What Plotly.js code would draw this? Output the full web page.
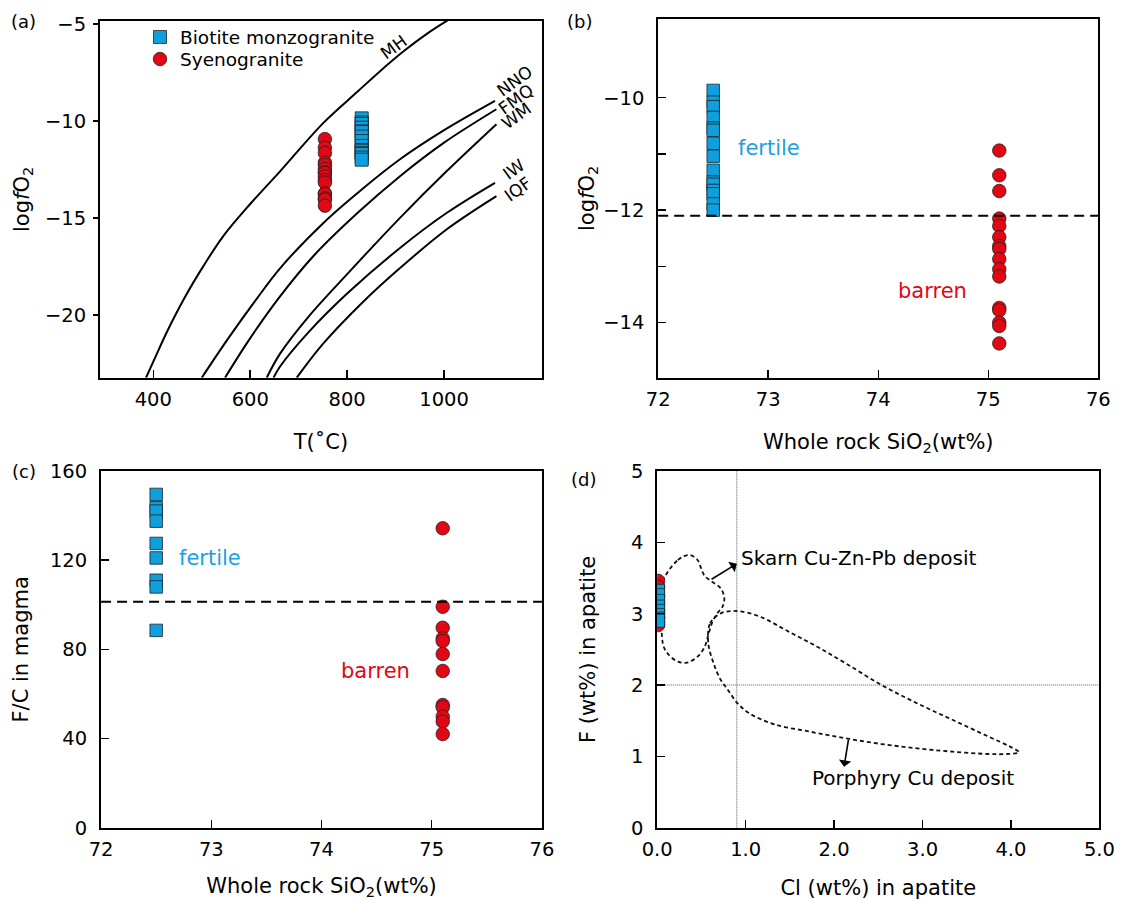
<!DOCTYPE html>
<html><head><meta charset="utf-8">
<script src="https://cdn.plot.ly/plotly-3.0.1.min.js"></script>
<style>html,body{margin:0;padding:0;background:#fff}#chart{width:1121px;height:900px}</style>
</head><body><div id="chart"></div>
<script>
// ---------- data ----------
// panel (a): oxygen-buffer curves  (T in °C, logfO2)
const mhT   = [385, 400, 430, 466, 503, 544, 599, 661.5, 751, 821, 865, 917, 968, 1009];
const mhFO2 = [-23.24, -22.41, -20.78, -19.05, -17.5, -15.95, -14.31, -12.6, -10.1, -8.5, -7.5, -6.4, -5.45, -4.79];
const nnoT   = [500, 555, 614, 661.5, 751, 830, 909, 1000, 1105];
const nnoFO2 = [-23.24, -21.2, -19.15, -17.6, -15.26, -13.54, -11.98, -10.48, -8.97];
const fmqT   = [548, 600, 661.5, 730, 820, 909, 1000, 1108];
const fmqFO2 = [-23.24, -21.2, -19.05, -16.98, -14.78, -12.85, -11.12, -9.40];
const wmT    = [634, 661.5, 720, 800, 909, 1005, 1108];
const wmFO2  = [-23.24, -22.0, -20.1, -17.9, -15.0, -12.6, -10.17];
const iwT    = [648, 661.5, 720, 800, 909, 1005, 1105];
const iwFO2  = [-23.24, -22.66, -20.9, -18.9, -16.55, -14.75, -13.19];
const iqfT   = [696, 750, 830, 909, 1005, 1108];
const iqfFO2 = [-23.24, -21.5, -19.4, -17.59, -15.6, -13.88];
const bufferLabels = ['MH', 'NNO', 'FMQ', 'WM', 'IW', 'IQF'];
const bufferLabelT   = [896, 1145, 1149, 1149, 1145, 1153];
const bufferLabelFO2 = [-6.2, -7.93, -8.88, -9.77, -12.5, -13.53];

// samples
const seriesNames = ['Biotite monzogranite', 'Syenogranite'];
const tempBiot = 830;           // T (°C), biotite monzogranite
const tempSyeno = 754;          // T (°C), syenogranite
const sio2Biot = 72.5;
const sio2Syeno = 75.1;
const fo2Biot  = [-9.87, -10.08, -10.16, -10.35, -10.54, -10.58, -10.81, -11.04, -11.29, -11.50, -11.54, -11.65, -11.71, -11.89, -12.00];
const fo2Syeno = [-10.94, -11.38, -11.66, -12.15, -12.28, -12.48, -12.64, -12.69, -12.87, -13.05, -13.18, -13.74, -13.78, -14.00, -14.06, -14.37];
const fo2Threshold = -12.1;
const fcBiot  = [149.5, 143.5, 142, 137.5, 127.5, 121, 111, 108, 88.5];
const fcSyeno = [134.3, 99.1, 89.7, 84.9, 83.7, 77.9, 70.3, 55.0, 54.0, 49.8, 47.6, 42.0];
const fcThreshold = 101.4;

// panel (d): apatite F vs Cl
const clBiot = 0.01, clSyeno = 0.01;
const fApBiot  = [3.32, 3.26, 3.18, 3.10, 3.04, 2.98, 2.93, 2.90];
const fApSyeno = [3.46, 3.38, 3.25, 3.15, 3.05, 2.95, 2.88, 2.84];
const skarnCl = [0.053, 0.234, 0.363, 0.456, 0.497, 0.537, 0.618, 0.719, 0.759, 0.739, 0.679, 0.618, 0.578, 0.537, 0.456, 0.335, 0.234, 0.133, 0.073, 0.053, 0.03, 0.053];
const skarnF  = [3.425, 3.752, 3.822, 3.752, 3.636, 3.528, 3.449, 3.355, 3.215, 3.098, 3.005, 2.864, 2.701, 2.537, 2.397, 2.313, 2.327, 2.421, 2.537, 2.701, 3.05, 3.425];
const porphCl = [0.578, 0.598, 0.719, 0.901, 1.163, 1.486, 1.809, 2.132, 2.536, 2.940, 3.344, 3.748, 3.990, 4.091, 3.950, 3.748, 3.344, 2.940, 2.536, 2.132, 1.729, 1.325, 1.042, 0.909, 0.800, 0.719, 0.638, 0.578];
const porphF  = [2.584, 2.864, 3.005, 3.037, 2.958, 2.748, 2.537, 2.304, 2.000, 1.743, 1.509, 1.276, 1.136, 1.056, 1.033, 1.033, 1.065, 1.112, 1.173, 1.252, 1.346, 1.449, 1.603, 1.743, 1.930, 2.070, 2.304, 2.584];
const clRef = 0.9, fRef = 2.0;

// ---------- styles ----------
const FONT = 'DejaVu Sans';
const BLUE = '#0E9FDF', RED = '#E30613';
const fertileColor = '#1BA1E2', barrenColor = '#E30613';
const edge = {color: '#222', width: 0.8};

function rep(v, n) { return Array.from({length: n}, () => v); }

const traces = [];
function curve(x, y, xa, ya) {
  traces.push({x: x, y: y, xaxis: xa, yaxis: ya, mode: 'lines', type: 'scatter',
    line: {color: '#000', width: 2, shape: 'spline', smoothing: 1}, showlegend: false, hoverinfo: 'skip'});
}
curve(mhT, mhFO2, 'x', 'y');
curve(nnoT, nnoFO2, 'x', 'y');
curve(fmqT, fmqFO2, 'x', 'y');
curve(wmT, wmFO2, 'x', 'y');
curve(iwT, iwFO2, 'x', 'y');
curve(iqfT, iqfFO2, 'x', 'y');

function pts(x, y, xa, ya, kind, size, legend) {
  const isB = kind === 'b';
  const t = {x: x, y: y, xaxis: xa, yaxis: ya, mode: 'markers', type: 'scatter',
    name: isB ? seriesNames[0] : seriesNames[1], showlegend: !!legend,
    marker: {symbol: isB ? 'square' : 'circle', size: size, color: isB ? BLUE : RED, line: edge}};
  if (legend) t.legend = legend;
  traces.push(t);
}
// (a)
pts(rep(tempBiot, fo2Biot.length), fo2Biot, 'x', 'y', 'b', 13, 'legend');
pts(rep(tempSyeno, fo2Syeno.length), fo2Syeno, 'x', 'y', 'r', 13.5, 'legend2');
// (b)
pts(rep(sio2Biot, fo2Biot.length), fo2Biot, 'x2', 'y2', 'b', 12.5);
pts(rep(sio2Syeno, fo2Syeno.length), fo2Syeno, 'x2', 'y2', 'r', 13.5);
// (c)
pts(rep(sio2Biot, fcBiot.length), fcBiot, 'x3', 'y3', 'b', 12.5);
pts(rep(sio2Syeno, fcSyeno.length), fcSyeno, 'x3', 'y3', 'r', 13.5);
// (d) fields
const fieldLine = {color: '#111', width: 1.8, dash: '4px,3px', shape: 'spline', smoothing: 1};
traces.push({x: skarnCl, y: skarnF, xaxis: 'x4', yaxis: 'y4', mode: 'lines', line: fieldLine, showlegend: false, hoverinfo: 'skip'});
traces.push({x: porphCl, y: porphF, xaxis: 'x4', yaxis: 'y4', mode: 'lines', line: fieldLine, showlegend: false, hoverinfo: 'skip'});
pts(rep(clSyeno, fApSyeno.length), fApSyeno, 'x4', 'y4', 'r', 13.5);
pts(rep(clBiot, fApBiot.length), fApBiot, 'x4', 'y4', 'b', 13);

// ---------- layout ----------
const W = 1121, H = 900;
const px = v => v / W, py = v => 1 - v / H;
function axis(extra) {
  return Object.assign({
    showline: true, mirror: true, linecolor: '#000', linewidth: 2,
    ticks: 'inside', ticklen: 8, tickwidth: 1.5, tickcolor: '#000',
    showgrid: false, zeroline: false, automargin: false,
    tickfont: {family: FONT, size: 19.5, color: '#000'}
  }, extra);
}
function ttl(text, standoff) { return {text: text, standoff: standoff, font: {family: FONT, size: 21, color: '#000'}}; }

const sio2Title = 'Whole rock SiO<sub>2</sub>(wt%)';
const fo2Title = 'log<i>f</i>O<sub>2</sub>';
const legendStyle = {xanchor: 'left', yanchor: 'top', bgcolor: 'rgba(0,0,0,0)', borderwidth: 0,
  font: {family: FONT, size: 18.5, color: '#000'}, itemclick: false};

const layout = {
  width: W, height: H, margin: {l: 0, r: 0, t: 0, b: 0},
  paper_bgcolor: '#fff', plot_bgcolor: '#fff',
  font: {family: FONT, color: '#000'},
  showlegend: true,
  legend:  Object.assign({x: px(140), y: py(18.5)}, legendStyle),
  legend2: Object.assign({x: px(140), y: py(40.5)}, legendStyle),
  xaxis:  axis({domain: [px(100), px(542)], anchor: 'y', range: [290, 1202], tickvals: [400, 600, 800, 1000], ticklabelstandoff: 3, title: ttl('T(˚C)', 24)}),
  yaxis:  axis({domain: [py(377.7), py(21)], anchor: 'x', range: [-23.24, -4.85], tickvals: [-20, -15, -10, -5], ticks: 'outside', ticklen: 5, ticklabelstandoff: 3, title: ttl(fo2Title, 10)}),
  xaxis2: axis({domain: [px(658.2), px(1098.3)], anchor: 'y2', range: [72, 76], dtick: 1, ticklabelstandoff: 3, title: ttl(sio2Title, 24)}),
  yaxis2: axis({domain: [py(377.7), py(19)], anchor: 'x2', range: [-14.98, -8.6], tickvals: [-14, -12, -10], ticklabelstandoff: 8,
    minor: {tickvals: [-13, -11], ticks: 'inside', ticklen: 8, tickwidth: 1.5, tickcolor: '#000', showgrid: false}, title: ttl(fo2Title, 3)}),
  xaxis3: axis({domain: [px(101.1), px(541.9)], anchor: 'y3', range: [72, 76], dtick: 1, ticklabelstandoff: 3, title: ttl(sio2Title, 24)}),
  yaxis3: axis({domain: [py(827.7), py(471)], anchor: 'x3', range: [0, 160], dtick: 40, ticklabelstandoff: 8, title: ttl('F/C in magma', 16)}),
  xaxis4: axis({domain: [px(657.2), px(1099.4)], anchor: 'y4', range: [0, 5], dtick: 1, tickformat: '.1f', ticklabelstandoff: 3, title: ttl('Cl (wt%) in apatite', 24)}),
  yaxis4: axis({domain: [py(827.7), py(471)], anchor: 'x4', range: [0, 5], dtick: 1, ticklabelstandoff: 8, title: ttl('F (wt%) in apatite', 30)}),
  shapes: [
    {type: 'line', xref: 'x2 domain', yref: 'y2', x0: 0, x1: 1, y0: fo2Threshold, y1: fo2Threshold, line: {color: '#000', width: 2, dash: '10px,6px'}},
    {type: 'line', xref: 'x3 domain', yref: 'y3', x0: 0, x1: 1, y0: fcThreshold, y1: fcThreshold, line: {color: '#000', width: 2, dash: '10px,6px'}},
    {type: 'line', xref: 'x4', yref: 'y4 domain', x0: clRef, x1: clRef, y0: 0, y1: 1, layer: 'below', line: {color: '#333', width: 0.8, dash: '1px,1px'}},
    {type: 'line', xref: 'x4 domain', yref: 'y4', x0: 0, x1: 1, y0: fRef, y1: fRef, layer: 'below', line: {color: '#333', width: 0.8, dash: '1px,1px'}}
  ],
  annotations: []
};

const A = layout.annotations;
// panel letters
[['(a)', 23, 21.7], ['(b)', 579, 21.7], ['(c)', 24, 471.7], ['(d)', 583, 479]].forEach(p => {
  A.push({text: p[0], xref: 'paper', yref: 'paper', x: px(p[1]), y: py(p[2]), xanchor: 'center', yanchor: 'middle', showarrow: false, font: {family: FONT, size: 18, color: '#000'}});
});
// buffer labels
bufferLabels.forEach((t, i) => {
  A.push({text: t, xref: 'x', yref: 'y', x: bufferLabelT[i], y: bufferLabelFO2[i], textangle: -36, showarrow: false, xanchor: 'center', yanchor: 'middle', font: {family: FONT, size: 17, color: '#000'}});
});
// fertile / barren
A.push({text: 'fertile', xref: 'x2', yref: 'y2', x: 72.708, y: -10.89, xanchor: 'left', yanchor: 'middle', showarrow: false, font: {family: FONT, size: 21, color: fertileColor}});
A.push({text: 'barren', xref: 'x2', yref: 'y2', x: 74.16, y: -13.43, xanchor: 'left', yanchor: 'middle', showarrow: false, font: {family: FONT, size: 21, color: barrenColor}});
A.push({text: 'fertile', xref: 'x3', yref: 'y3', x: 72.693, y: 120.8, xanchor: 'left', yanchor: 'middle', showarrow: false, font: {family: FONT, size: 21, color: fertileColor}});
A.push({text: 'barren', xref: 'x3', yref: 'y3', x: 74.156, y: 70.4, xanchor: 'left', yanchor: 'middle', showarrow: false, font: {family: FONT, size: 21, color: barrenColor}});
// deposit labels and arrows
A.push({text: 'Skarn Cu-Zn-Pb deposit', xref: 'x4', yref: 'y4', x: 0.92, y: 3.776, xanchor: 'left', yanchor: 'middle', showarrow: false, font: {family: FONT, size: 20, color: '#000'}});
A.push({text: 'Porphyry Cu deposit', xref: 'x4', yref: 'y4', x: 1.728, y: 0.692, xanchor: 'left', yanchor: 'middle', showarrow: false, font: {family: FONT, size: 20, color: '#000'}});
A.push({text: '', xref: 'x4', yref: 'y4', axref: 'x4', ayref: 'y4', x: 0.9, y: 3.70, ax: 0.598, ay: 3.47, showarrow: true, arrowhead: 1, arrowsize: 1.3, arrowwidth: 1.6, arrowcolor: '#000'});
A.push({text: '', xref: 'x4', yref: 'y4', axref: 'x4', ayref: 'y4', x: 2.113, y: 0.855, ax: 2.165, ay: 1.253, showarrow: true, arrowhead: 1, arrowsize: 1.3, arrowwidth: 1.6, arrowcolor: '#000'});

Plotly.newPlot('chart', traces, layout, {staticPlot: true});
</script></body></html>
